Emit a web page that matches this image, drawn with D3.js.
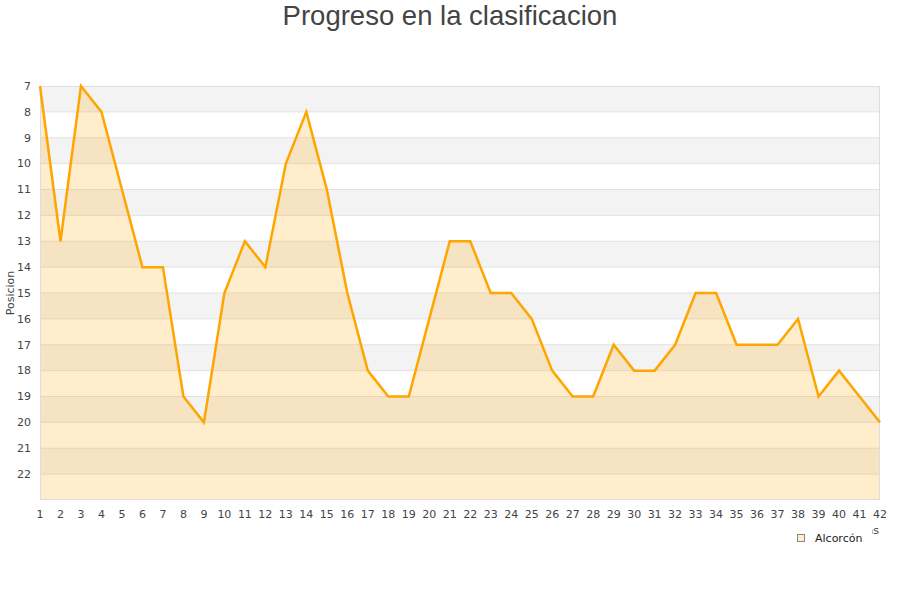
<!DOCTYPE html>
<html><head><meta charset="utf-8">
<script src="https://cdn.jsdelivr.net/npm/d3@7"></script>
<style>body{margin:0;background:#fff}svg{display:block}</style>
</head><body>
<script>
const rounds = d3.range(1, 43);
const positions = [7,13,7,8,11,14,14,19,20,15,13,14,10,8,11,15,18,19,19,16,13,13,15,15,16,18,19,19,17,18,18,17,15,15,17,17,17,16,19,18,19,20];
const yTicks = d3.range(7, 23);
const seriesName = "Alcorcón";

const W = 900, H = 600;
const m = {left: 40, right: 20, top: 86, bottom: 100};
const svg = d3.select("body").append("svg").attr("width", W).attr("height", H);

const x = d3.scaleLinear().domain([1, 42]).range([m.left, W - m.right]);
const y = d3.scaleLinear().domain([7, 23]).range([m.top, H - m.bottom]);

// bands
svg.append("g").selectAll("rect").data(d3.range(7, 23)).join("rect")
  .attr("x", m.left).attr("width", W - m.right - m.left)
  .attr("y", d => y(d)).attr("height", d => y(d + 1) - y(d))
  .attr("fill", d => d % 2 === 1 ? "#f3f3f3" : "#ffffff");
// gridlines
svg.append("g").selectAll("line").data(d3.range(8, 23)).join("line")
  .attr("x1", m.left).attr("x2", W - m.right)
  .attr("y1", d => y(d)).attr("y2", d => y(d))
  .attr("stroke", "#e2e2e2").attr("stroke-width", 1);

const data = rounds.map((r, i) => ({r, p: positions[i]}));
svg.append("path").datum(data)
  .attr("d", d3.area().x(d => x(d.r)).y0(y(23)).y1(d => y(d.p)))
  .attr("fill", "rgba(255,165,0,0.2)");
svg.append("rect").attr("x", m.left + 0.5).attr("y", m.top + 0.5)
  .attr("width", W - m.right - m.left - 1).attr("height", y(23) - m.top - 1)
  .attr("fill", "none").attr("stroke", "#dddddd");
svg.append("path").datum(data)
  .attr("d", d3.line().x(d => x(d.r)).y(d => y(d.p)))
  .attr("fill", "none").attr("stroke", "#ffa500").attr("stroke-width", 2.5)
  .attr("stroke-linejoin", "miter");

const font = "DejaVu Sans, sans-serif";
// y labels
svg.append("g").selectAll("text").data(yTicks).join("text")
  .attr("x", 31).attr("y", d => y(d)).attr("dy", "0.35em")
  .attr("text-anchor", "end").attr("font-family", font).attr("font-size", 11)
  .attr("fill", "#444").text(d => d);
// x labels
svg.append("g").selectAll("text").data(rounds).join("text")
  .attr("x", d => x(d)).attr("y", 514).attr("dy", "0.35em")
  .attr("text-anchor", "middle").attr("font-family", font).attr("font-size", 11)
  .attr("fill", "#444").text(d => d);

// axis titles
svg.append("text").attr("transform", "translate(14,293) rotate(-90)")
  .attr("text-anchor", "middle").attr("font-family", font).attr("font-size", 11)
  .attr("fill", "#444").text("Posicion");
svg.append("text").attr("x", 879).attr("y", 534)
  .attr("text-anchor", "end").attr("font-family", font).attr("font-size", 11)
  .attr("fill", "#444").text("Jornadas");

// legend
svg.append("rect").attr("x", 788).attr("y", 526).attr("width", 84).attr("height", 26).attr("fill", "#fff");
svg.append("rect").attr("x", 797.5).attr("y", 534.5).attr("width", 7).attr("height", 7)
  .attr("fill", "#ffedcc").attr("stroke", "#888");
svg.append("text").attr("x", 815).attr("y", 538).attr("dy", "0.35em")
  .attr("font-family", font).attr("font-size", 11).attr("fill", "#222").text(seriesName);

// title
svg.append("text").attr("x", 450).attr("y", 25).attr("text-anchor", "middle")
  .attr("font-family", "Liberation Sans, Arial, sans-serif").attr("font-size", 27.5)
  .attr("fill", "#444").text("Progreso en la clasificacion");
</script>
</body></html>
